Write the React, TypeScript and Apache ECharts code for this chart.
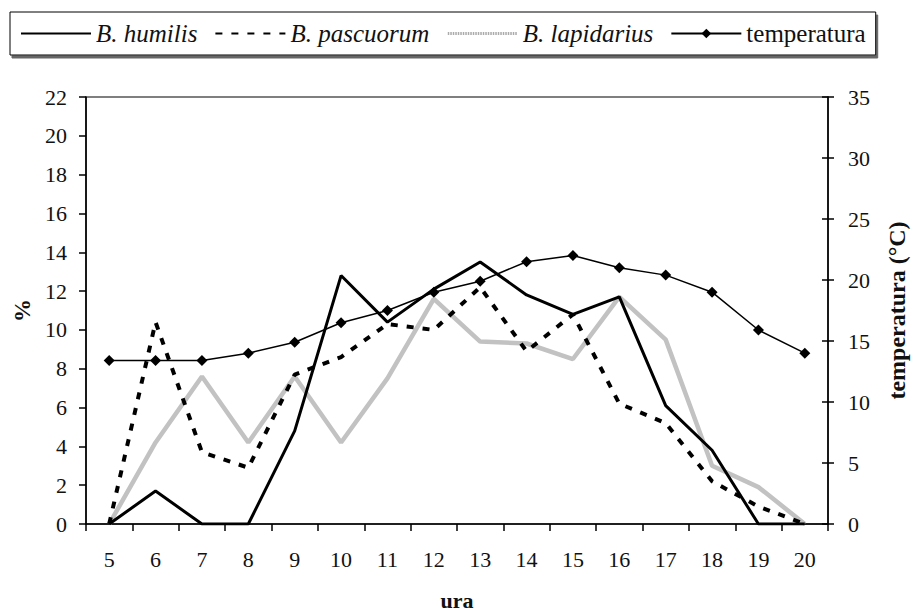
import React, { useEffect, useRef } from "react";
import * as echarts from "echarts";

const hours = ["5", "6", "7", "8", "9", "10", "11", "12", "13", "14", "15", "16", "17", "18", "19", "20"];
const humilis = [0, 1.7, 0, 0, 4.8, 12.8, 10.4, 12.1, 13.5, 11.8, 10.8, 11.7, 6.1, 3.8, 0, 0];
const pascuorum = [0, 10.4, 3.7, 2.9, 7.7, 8.6, 10.3, 10.0, 12.2, 8.9, 10.8, 6.2, 5.2, 2.2, 0.9, 0];
const lapidarius = [0, 4.2, 7.6, 4.2, 7.6, 4.2, 7.5, 11.6, 9.4, 9.3, 8.5, 11.7, 9.5, 3.0, 1.9, 0];
const temperatura = [13.4, 13.4, 13.4, 14.0, 14.9, 16.5, 17.5, 19.0, 19.9, 21.5, 22.0, 21.0, 20.4, 19.0, 15.9, 14.0];

const seriesNames = ["B. humilis", "B. pascuorum", "B. lapidarius", "temperatura"];
const leftMax = 22;
const leftStep = 2;
const rightMax = 35;
const rightStep = 5;

const FONT = "Liberation Serif";

export default function App() {
  const ref = useRef<HTMLDivElement>(null);
  useEffect(() => {
    if (!ref.current) return;
    const chart = echarts.init(ref.current, undefined, { renderer: "svg" });
    const axisText = { fontFamily: FONT, fontSize: 22, color: "#111" };
    const hiddenSymbol = { opacity: 0 };
    chart.setOption({
      animation: false,
      backgroundColor: "#fff",
      textStyle: { fontFamily: FONT },
      legend: {
        top: 12,
        left: 10,
        padding: [9, 10, 9, 10],
        itemGap: 17,
        itemWidth: 70,
        itemHeight: 12,
        borderColor: "#000",
        borderWidth: 1,
        backgroundColor: "#fff",
        shadowColor: "#666",
        shadowOffsetX: 2,
        shadowOffsetY: 3,
        shadowBlur: 0,
        textStyle: { fontFamily: FONT, fontSize: 25, color: "#111" },
        data: [
          { name: seriesNames[0], textStyle: { fontStyle: "italic", fontFamily: FONT }, itemStyle: hiddenSymbol },
          { name: seriesNames[1], textStyle: { fontStyle: "italic", fontFamily: FONT }, itemStyle: hiddenSymbol },
          {
            name: seriesNames[2],
            textStyle: { fontStyle: "italic", fontFamily: FONT },
            itemStyle: hiddenSymbol,
            lineStyle: { width: 3, type: [1.5, 1], color: "#aaa" },
          },
          { name: seriesNames[3] },
        ],
      },
      grid: {
        left: 86,
        right: 84,
        top: 97,
        bottom: 91,
        show: true,
        borderColor: "#000",
        borderWidth: 1.2,
        outerBoundsMode: "none",
        containLabel: false,
      },
      xAxis: {
        type: "category",
        data: hours,
        boundaryGap: true,
        name: "ura",
        nameLocation: "middle",
        nameGap: 65,
        nameTextStyle: { fontFamily: FONT, fontSize: 22, fontWeight: "bold", color: "#111" },
        axisLine: { lineStyle: { color: "#000", width: 1.5 } },
        axisTick: { show: true, length: 7, alignWithLabel: false, lineStyle: { color: "#000", width: 1.5 } },
        axisLabel: { ...axisText, margin: 24 },
        splitLine: { show: false },
      },
      yAxis: [
        {
          type: "value",
          min: 0,
          max: leftMax,
          interval: leftStep,
          position: "left",
          name: "%",
          nameLocation: "middle",
          nameGap: 47,
          nameRotate: 90,
          nameTextStyle: { fontFamily: FONT, fontSize: 23, fontWeight: "bold", color: "#111" },
          axisLine: { show: true, lineStyle: { color: "#000", width: 1.5 } },
          axisTick: { show: true, length: 7, lineStyle: { color: "#000", width: 1.5 } },
          axisLabel: { ...axisText, margin: 19 },
          splitLine: { show: false },
        },
        {
          type: "value",
          min: 0,
          max: rightMax,
          interval: rightStep,
          position: "right",
          name: "temperatura (°C)",
          nameLocation: "middle",
          nameGap: 57,
          nameRotate: 90,
          nameTextStyle: { fontFamily: FONT, fontSize: 24, fontWeight: "bold", color: "#111" },
          axisLine: { show: true, lineStyle: { color: "#000", width: 1.5 } },
          axisTick: { show: true, length: 6, lineStyle: { color: "#000", width: 1.5 } },
          axisLabel: { ...axisText, margin: 20 },
          splitLine: { show: false },
        },
        {
          type: "value",
          min: 0,
          max: rightMax,
          interval: rightStep,
          position: "right",
          axisLine: { show: false },
          axisTick: { show: true, inside: true, length: 6, lineStyle: { color: "#000", width: 1.5 } },
          axisLabel: { show: false },
          splitLine: { show: false },
        },
      ],
      series: [
        {
          name: seriesNames[0],
          type: "line",
          yAxisIndex: 0,
          data: humilis,
          symbol: "none",
          z: 4,
          lineStyle: { color: "#000", width: 3 },
          itemStyle: { color: "#000" },
        },
        {
          name: seriesNames[1],
          type: "line",
          yAxisIndex: 0,
          data: pascuorum,
          symbol: "none",
          z: 3,
          lineStyle: { color: "#000", width: 4, type: [7, 9] },
          itemStyle: { color: "#000" },
        },
        {
          name: seriesNames[2],
          type: "line",
          yAxisIndex: 0,
          data: lapidarius,
          symbol: "none",
          z: 2,
          lineStyle: { color: "#c2c2c2", width: 4.5 },
          itemStyle: { color: "#c2c2c2" },
        },
        {
          name: seriesNames[3],
          type: "line",
          yAxisIndex: 1,
          data: temperatura,
          symbol: "diamond",
          symbolSize: 11,
          z: 5,
          lineStyle: { color: "#000", width: 1.5 },
          itemStyle: { color: "#000" },
        },
      ],
    });
    return () => chart.dispose();
  }, []);
  return <div ref={ref} style={{ position: "fixed", left: 0, top: 0, width: 912, height: 615 }} />;
}
